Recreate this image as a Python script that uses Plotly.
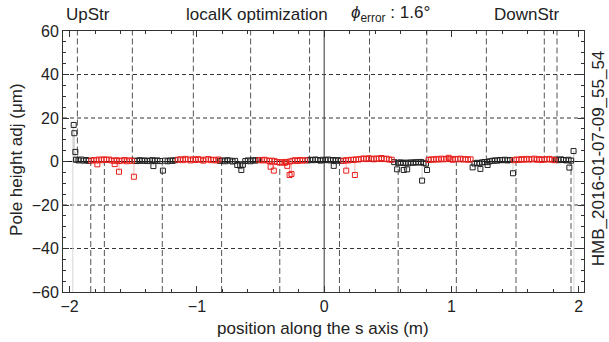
import plotly.graph_objects as go

# Pole height adjustments along the s axis (µm), grouped by colour
s_black = [-1.968, -1.963, -1.955, -1.95, -1.93, -1.91, -1.89, -1.87, -1.85,
           -1.49, -1.47, -1.45, -1.43, -1.41, -1.39, -1.37, -1.35, -1.342, -1.33, -1.31, -1.29, -1.267, -1.25, -1.23, -1.21, -1.19, -1.17,
           -0.82, -0.80, -0.78, -0.76, -0.74, -0.72, -0.70, -0.683, -0.66, -0.651, -0.639, -0.62, -0.60, -0.58, -0.56, -0.54, -0.52,
           -0.13, -0.11, -0.09, -0.07, -0.05, -0.03, -0.01, 0.01, 0.03, 0.05, 0.07, 0.075, 0.09, 0.11, 0.13,
           0.55, 0.573, 0.58, 0.60, 0.62, 0.625, 0.64, 0.652, 0.66, 0.68, 0.70, 0.72, 0.74, 0.76, 0.769, 0.78, 0.80, 0.808,
           1.166, 1.18, 1.20, 1.22, 1.227, 1.24, 1.26, 1.28, 1.284, 1.30, 1.32, 1.34, 1.36, 1.38, 1.40, 1.42, 1.44, 1.46, 1.483,
           1.82, 1.84, 1.86, 1.88, 1.90, 1.92, 1.926, 1.94, 1.959]
h_black = [16.8, 13.0, 4.4, 0.8, 0.5, 0.9, 0.4, 0.7, 0.3,
           0.4, 0.2, 0.6, 0.3, 0.5, 0.2, 0.4, 0.6, -2.1, 0.3, 0.5, 0.2, -4.2, 0.4, 0.1, 0.5, 0.3, 0.6,
           0.3, 0.5, 0.1, 0.6, 0.4, 0.0, 0.3, -1.6, -1.9, -3.9, -1.5, 0.2, 0.5, 0.1, 0.6, 0.4, 0.7,
           0.5, 0.8, 0.6, 0.9, 0.7, 0.4, 0.8, 0.6, 0.9, 0.5, 0.7, -2.0, 0.4, 0.6, 0.3,
           -0.3, -3.6, -0.6, -0.4, -0.7, -3.9, -0.5, -3.6, -0.8, -0.4, -0.6, -0.3, -0.5, -0.2, -8.8, -0.6, -1.0, -3.9,
           -2.7, -0.9, -0.6, -0.8, -3.4, -0.4, -0.2, -0.3, -1.6, 0.1, 0.3, 0.5, 0.4, 0.7, 0.6, 0.8, 0.5, 0.7, -5.4,
           0.9, 0.6, 1.0, 0.7, 0.5, 0.8, -2.8, 0.4, 4.8]

s_red = [-1.83, -1.81, -1.79, -1.782, -1.77, -1.75, -1.73, -1.71, -1.69, -1.67, -1.65, -1.646, -1.63, -1.612, -1.61, -1.59, -1.57, -1.55, -1.53, -1.51, -1.495,
         -1.15, -1.13, -1.11, -1.09, -1.07, -1.05, -1.03, -1.01, -0.99, -0.97, -0.95, -0.93, -0.91, -0.89, -0.87, -0.85, -0.83,
         -0.51, -0.49, -0.47, -0.45, -0.43, -0.421, -0.41, -0.396, -0.39, -0.37, -0.35, -0.33, -0.31, -0.30, -0.29, -0.272, -0.27, -0.257, -0.25, -0.23, -0.21, -0.19, -0.17, -0.15,
         0.15, 0.17, 0.173, 0.19, 0.21, 0.23, 0.241, 0.25, 0.27, 0.29, 0.31, 0.33, 0.35, 0.37, 0.39, 0.41, 0.43, 0.45, 0.47, 0.49, 0.51, 0.53,
         0.82, 0.84, 0.86, 0.88, 0.90, 0.92, 0.94, 0.96, 0.978, 0.99, 1.01, 1.03, 1.05, 1.07, 1.09, 1.11, 1.13, 1.15,
         1.49, 1.51, 1.53, 1.55, 1.57, 1.59, 1.61, 1.63, 1.65, 1.67, 1.69, 1.71, 1.73, 1.75, 1.77, 1.79, 1.81]
h_red = [0.4, 0.7, 0.5, -1.3, 0.9, 0.6, 1.0, 0.7, 0.9, 0.5, 0.3, -1.2, 0.6, -4.7, 0.2, 0.4, 0.7, 0.1, 0.5, 0.3, -7.0,
         0.8, 1.0, 0.6, 1.2, 0.9, 0.5, 1.0, 0.7, 1.1, 0.8, 0.4, 0.9, 1.1, 0.6, 0.8, 0.5, 0.9,
         0.7, 0.5, 0.8, 0.5, 0.2, -2.4, 0.4, -4.2, 0.1, -0.2, -0.5, -0.3, -0.6, -0.2, -2.0, -6.2, 0.0, -5.7, 0.3, 0.6, 0.2, 0.7, 0.4, 0.6,
         0.3, 0.6, -4.2, 0.5, 0.8, 0.7, -6.2, 1.0, 0.9, 1.2, 1.4, 1.1, 1.5, 1.3, 1.0, 1.4, 1.2, 1.6, 1.1, 1.3, 0.9, 0.8,
         0.7, 1.0, 0.8, 1.2, 0.9, 1.3, 1.0, 1.2, 1.7, 1.1, 0.8, 1.2, 1.0, 1.3, 0.9, 1.1, 0.8, 1.0,
         0.6, 0.9, 0.7, 1.1, 0.8, 1.2, 0.9, 1.0, 1.3, 0.8, 1.1, 0.7, 1.0, 0.9, 1.2, 0.8, 0.6]

# Pole boundaries: dashed markers drawn above and below the axis
upper_poles = [-1.939, -1.507, -1.028, -0.578, -0.115, 0.356, 0.806, 1.274, 1.729, 1.829]
lower_poles = [-1.834, -1.727, -1.272, -0.806, -0.349, 0.120, 0.581, 1.038, 1.507, 1.939]

# Magnet ends (light guide lines from end point down to the frame)
end_pos = [-1.975, 1.962]
end_top = [16.8, 4.8]

grid_levels = [-40, -20, 20, 40]

FONT = "Liberation Sans, Arial, sans-serif"
TXT = "#222222"
RED = "#e8211d"
BLACK = "#222222"


def stems(xs, ys):
    sx, sy = [], []
    for x, y in zip(xs, ys):
        sx += [x, x, None]
        sy += [0, y, None]
    return sx, sy


fig = go.Figure()

bx, by = stems(s_black, h_black)
rx, ry = stems(s_red, h_red)
fig.add_trace(go.Scatter(x=bx, y=by, mode="lines", line=dict(color="#d0d0d0", width=1),
                         hoverinfo="skip", showlegend=False))
fig.add_trace(go.Scatter(x=rx, y=ry, mode="lines", line=dict(color="#f6b8b8", width=1),
                         hoverinfo="skip", showlegend=False))
fig.add_trace(go.Scatter(x=s_black, y=h_black, mode="markers", showlegend=False,
                         marker=dict(symbol="square-open", size=5, color=BLACK, line=dict(width=1, color=BLACK))))
fig.add_trace(go.Scatter(x=s_red, y=h_red, mode="markers", showlegend=False,
                         marker=dict(symbol="square-open", size=5, color=RED, line=dict(width=1, color=RED))))

shapes = []
for lv in grid_levels:
    shapes.append(dict(type="line", xref="paper", x0=0, x1=1, yref="y", y0=lv, y1=lv,
                       line=dict(color="#333333", width=1, dash="4px,3px"), layer="below"))
for p in upper_poles:
    shapes.append(dict(type="line", xref="x", x0=p, x1=p, yref="y", y0=0, y1=60,
                       line=dict(color="#555555", width=1, dash="6px,3px"), layer="below"))
for p in lower_poles:
    shapes.append(dict(type="line", xref="x", x0=p, x1=p, yref="y", y0=-60, y1=0,
                       line=dict(color="#555555", width=1, dash="6px,3px"), layer="below"))
for p, t in zip(end_pos, end_top):
    shapes.append(dict(type="line", xref="x", x0=p, x1=p, yref="y", y0=-60, y1=t,
                       line=dict(color="#d8d8d8", width=1), layer="below"))
shapes.append(dict(type="line", xref="x", x0=0, x1=0, yref="paper", y0=0, y1=1,
                   line=dict(color="#555555", width=1.2), layer="below"))
shapes.append(dict(type="line", xref="paper", x0=0, x1=1, yref="y", y0=0, y1=0,
                   line=dict(color="#111111", width=1), layer="below"))

axis_common = dict(showgrid=False, zeroline=False, showline=True, linecolor="#333333", linewidth=1,
                   mirror="ticks", ticks="inside", ticklen=6, tickwidth=1, tickcolor="#333333",
                   tickfont=dict(family=FONT, size=16, color=TXT))

fig.update_xaxes(range=[-2.052, 2.041], tick0=0, dtick=1,
                 minor=dict(ticks="inside", ticklen=3, dtick=0.2, tick0=0, tickcolor="#333333", showgrid=False),
                 **axis_common)
fig.update_yaxes(range=[-60, 60], tick0=0, dtick=20,
                 minor=dict(ticks="inside", ticklen=3, dtick=5, tick0=0, tickcolor="#333333", showgrid=False),
                 **axis_common)

ann_font = dict(family=FONT, size=17, color=TXT)
annotations = [
    dict(text="UpStr", xref="paper", yref="paper", x=0.002, y=1.065, xanchor="left", yanchor="middle",
         showarrow=False, font=ann_font),
    dict(text="localK optimization", xref="paper", yref="paper", x=0.2326, y=1.065, xanchor="left",
         yanchor="middle", showarrow=False, font=ann_font),
    dict(text="<i>ϕ</i><sub>error</sub> : 1.6°", xref="paper", yref="paper", x=0.548, y=1.065,
         xanchor="left", yanchor="middle", showarrow=False, font=ann_font),
    dict(text="DownStr", xref="paper", yref="paper", x=0.957, y=1.065, xanchor="right", yanchor="middle",
         showarrow=False, font=ann_font),
    dict(text="position along the s axis (m)", xref="paper", yref="paper", x=0.4995, y=-0.138,
         xanchor="center", yanchor="middle", showarrow=False, font=ann_font),
    dict(text="Pole height adj (μm)", xref="paper", yref="paper", x=-0.0883, y=0.506, textangle=-90,
         xanchor="center", yanchor="middle", showarrow=False, font=ann_font),
    dict(text="HMB_2016-01-07-09_55_54", xref="paper", yref="paper", x=1.027, y=0.513, textangle=-90,
         xanchor="center", yanchor="middle", showarrow=False, font=ann_font),
]

fig.update_layout(width=609, height=342, margin=dict(l=63, r=25, t=31, b=50),
                  paper_bgcolor="white", plot_bgcolor="white",
                  shapes=shapes, annotations=annotations, showlegend=False)

fig.write_html("out.html")
